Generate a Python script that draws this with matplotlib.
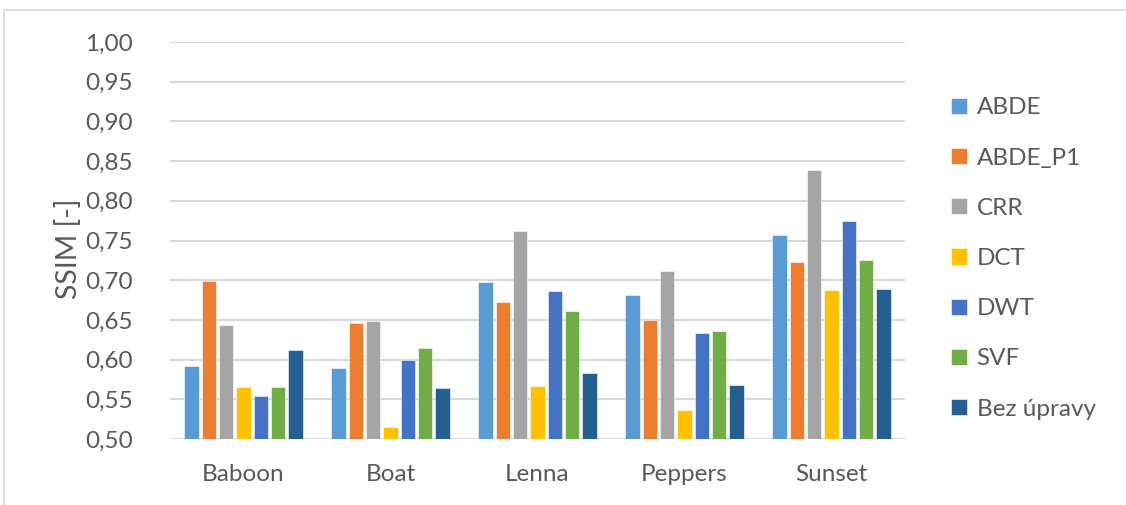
import matplotlib.pyplot as plt
import numpy as np
from matplotlib.lines import Line2D

plt.rcParams['font.family'] = ['Lato', 'DejaVu Sans']

images = ['Baboon', 'Boat', 'Lenna', 'Peppers', 'Sunset']
methods = ['ABDE', 'ABDE_P1', 'CRR', 'DCT', 'DWT', 'SVF', 'Bez úpravy']
colors = ['#5B9BD5', '#ED7D31', '#A5A5A5', '#FFC000', '#4472C4', '#70AD47', '#255E91']

abde = [0.592, 0.589, 0.698, 0.681, 0.757]
abde_p1 = [0.699, 0.646, 0.673, 0.650, 0.723]
crr = [0.644, 0.648, 0.762, 0.712, 0.839]
dct = [0.566, 0.515, 0.567, 0.537, 0.688]
dwt = [0.554, 0.600, 0.686, 0.633, 0.775]
svf = [0.565, 0.615, 0.661, 0.636, 0.725]
bez = [0.612, 0.564, 0.583, 0.568, 0.689]
series = [abde, abde_p1, crr, dct, dwt, svf, bez]

yticks = np.arange(0.50, 1.001, 0.05)
text_color = '#595959'

W, H = 1126, 505
fig = plt.figure(figsize=(W / 100, H / 100), dpi=100)
ax = fig.add_axes([170 / W, (H - 439) / H, 735 / W, 397 / H])

x = np.arange(len(images))
step = 0.1177
width = 0.097
for i, (vals, c) in enumerate(zip(series, colors)):
    ax.bar(x + (i - 3) * step, vals, width, color=c, label=methods[i],
           edgecolor='white', linewidth=0.4, zorder=3)

ax.set_xlim(-0.5, len(images) - 0.5)
ax.set_ylim(0.5, 1.0)
ax.set_yticks(yticks)
ax.set_yticklabels([f'{t:.2f}'.replace('.', ',') for t in yticks])
ax.set_xticks(x)
ax.set_xticklabels(images)
ax.tick_params(length=0, labelsize=17.5, colors=text_color)
ax.tick_params(axis='y', pad=27)
ax.tick_params(axis='x', pad=18)
ax.grid(axis='y', color='#D9D9D9', linewidth=1.5, zorder=0)
for s in ax.spines.values():
    s.set_visible(False)
ax.set_ylabel('SSIM [-]', fontsize=20.5, color=text_color)
ax.yaxis.set_label_coords(-88 / 735, 0.48)

leg = fig.legend(loc='center left', bbox_to_anchor=(951 / W, (H - 258.5) / H),
                 frameon=False, fontsize=17.5, labelcolor=text_color,
                 handlelength=0.65, handleheight=0.65, handletextpad=0.4,
                 labelspacing=1.2, borderaxespad=0, borderpad=0)

# thin frame around the chart area
fig.add_artist(Line2D([4 / W, 4 / W], [0, (H - 10) / H], color='#D9D9D9', lw=1.2))
fig.add_artist(Line2D([4 / W, 1], [(H - 10) / H, (H - 10) / H], color='#D9D9D9', lw=1.2))

fig.savefig('out.png', dpi=100)
